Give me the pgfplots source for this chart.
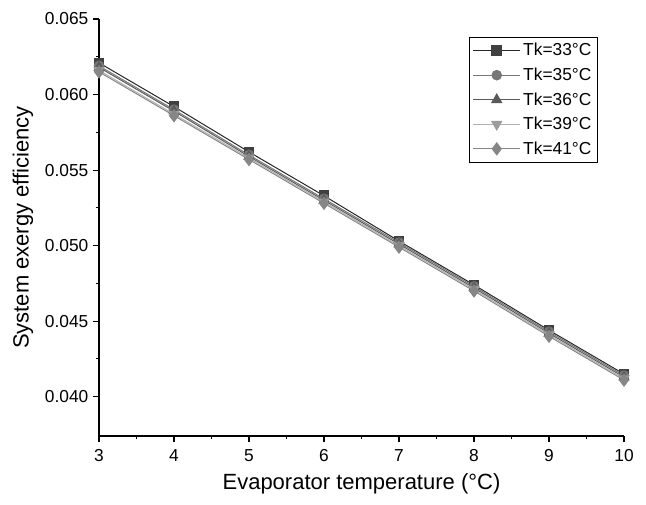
\documentclass[border=0pt]{standalone}
\usepackage{fontspec}
\setmainfont{Liberation Sans}
\usepackage{pgfplots}
\pgfplotsset{compat=1.18}

\definecolor{c33}{HTML}{404040}
\definecolor{c35}{HTML}{777777}
\definecolor{c36}{HTML}{5A5A5A}
\definecolor{c39}{HTML}{9C9C9C}
\definecolor{c41}{HTML}{868686}

\begin{document}
\begin{tikzpicture}
\begin{axis}[
    scale only axis,
    width=393.75pt, height=312.75pt,
    xmin=3, xmax=10,
    ymin=0.0374, ymax=0.065,
    axis x line*=bottom, axis y line*=left,
    axis line style={black, line width=0.8pt},
    xtick={3,4,5,6,7,8,9,10},
    ytick={0.040,0.045,0.050,0.055,0.060,0.065},
    minor x tick num=1, minor y tick num=1,
    tick align=outside,
    major tick length=4.5pt, minor tick length=2.5pt,
    tick style={black, line width=0.8pt},
    scaled y ticks=false,
    yticklabel style={/pgf/number format/fixed, /pgf/number format/precision=3,
        /pgf/number format/fixed zerofill},
    /pgf/number format/assume math mode=true,
    ticklabel style={font=\fontsize{13}{15}\selectfont},
    xticklabel style={yshift=-2pt},
    label style={font=\fontsize{16.5}{19}\selectfont},
    xlabel style={yshift=-2pt},
    ylabel style={yshift=2pt},
    xlabel={Evaporator temperature (°C)},
    ylabel={System exergy efficiency},
    every axis plot/.append style={line width=0.75pt},
    legend style={at={(rel axis cs:0.95,0.957)}, anchor=north east,
        draw=black, line width=0.6pt, font=\fontsize{13}{15}\selectfont,
        row sep=3.5pt, inner sep=2.5pt},
    legend cell align=left,
    legend image code/.code={\draw[mark repeat=2,mark phase=2]
        plot coordinates {(0pt,0pt) (17.5pt,0pt) (35pt,0pt)};},
    clip=false,
]
\addplot[color=black!85, mark=square*, mark size=3.6pt,
    mark options={fill=c33, draw=c33}]
  coordinates {(3,0.0621) (4,0.0592) (5,0.0562) (6,0.0533) (7,0.0503) (8,0.0474) (9,0.0444) (10,0.0415)};
\addlegendentry{Tk=33°C}
\addplot[color=c35, mark=*, mark size=3.6pt,
    mark options={fill=c35, draw=c35}]
  coordinates {(3,0.0619) (4,0.0590) (5,0.0560) (6,0.0531) (7,0.0502) (8,0.0473) (9,0.0443) (10,0.0414)};
\addlegendentry{Tk=35°C}
\addplot[color=c36, mark=triangle*, mark size=4.2pt,
    mark options={fill=c36, draw=c36}]
  coordinates {(3,0.0618) (4,0.0589) (5,0.0559) (6,0.0530) (7,0.0501) (8,0.0472) (9,0.0442) (10,0.0413)};
\addlegendentry{Tk=36°C}
\addplot[color=c39!80, mark=triangle*, mark size=4.2pt,
    mark options={fill=c39, draw=c39, rotate=180}]
  coordinates {(3,0.0616) (4,0.0587) (5,0.0558) (6,0.0529) (7,0.0500) (8,0.0471) (9,0.0441) (10,0.0412)};
\addlegendentry{Tk=39°C}
\addplot[color=c41, mark=diamond*, mark size=4.5pt,
    mark options={fill=c41, draw=c41}]
  coordinates {(3,0.0615) (4,0.0586) (5,0.0557) (6,0.0528) (7,0.0499) (8,0.0470) (9,0.0440) (10,0.0411)};
\addlegendentry{Tk=41°C}
\path (rel axis cs:0,0) ++(-74.25pt,-51pt) coordinate (bl);
\path (rel axis cs:1,1) ++(16.5pt,14.25pt) coordinate (tr);
\end{axis}
\path[use as bounding box] (bl) rectangle (tr);
\end{tikzpicture}
\end{document}
